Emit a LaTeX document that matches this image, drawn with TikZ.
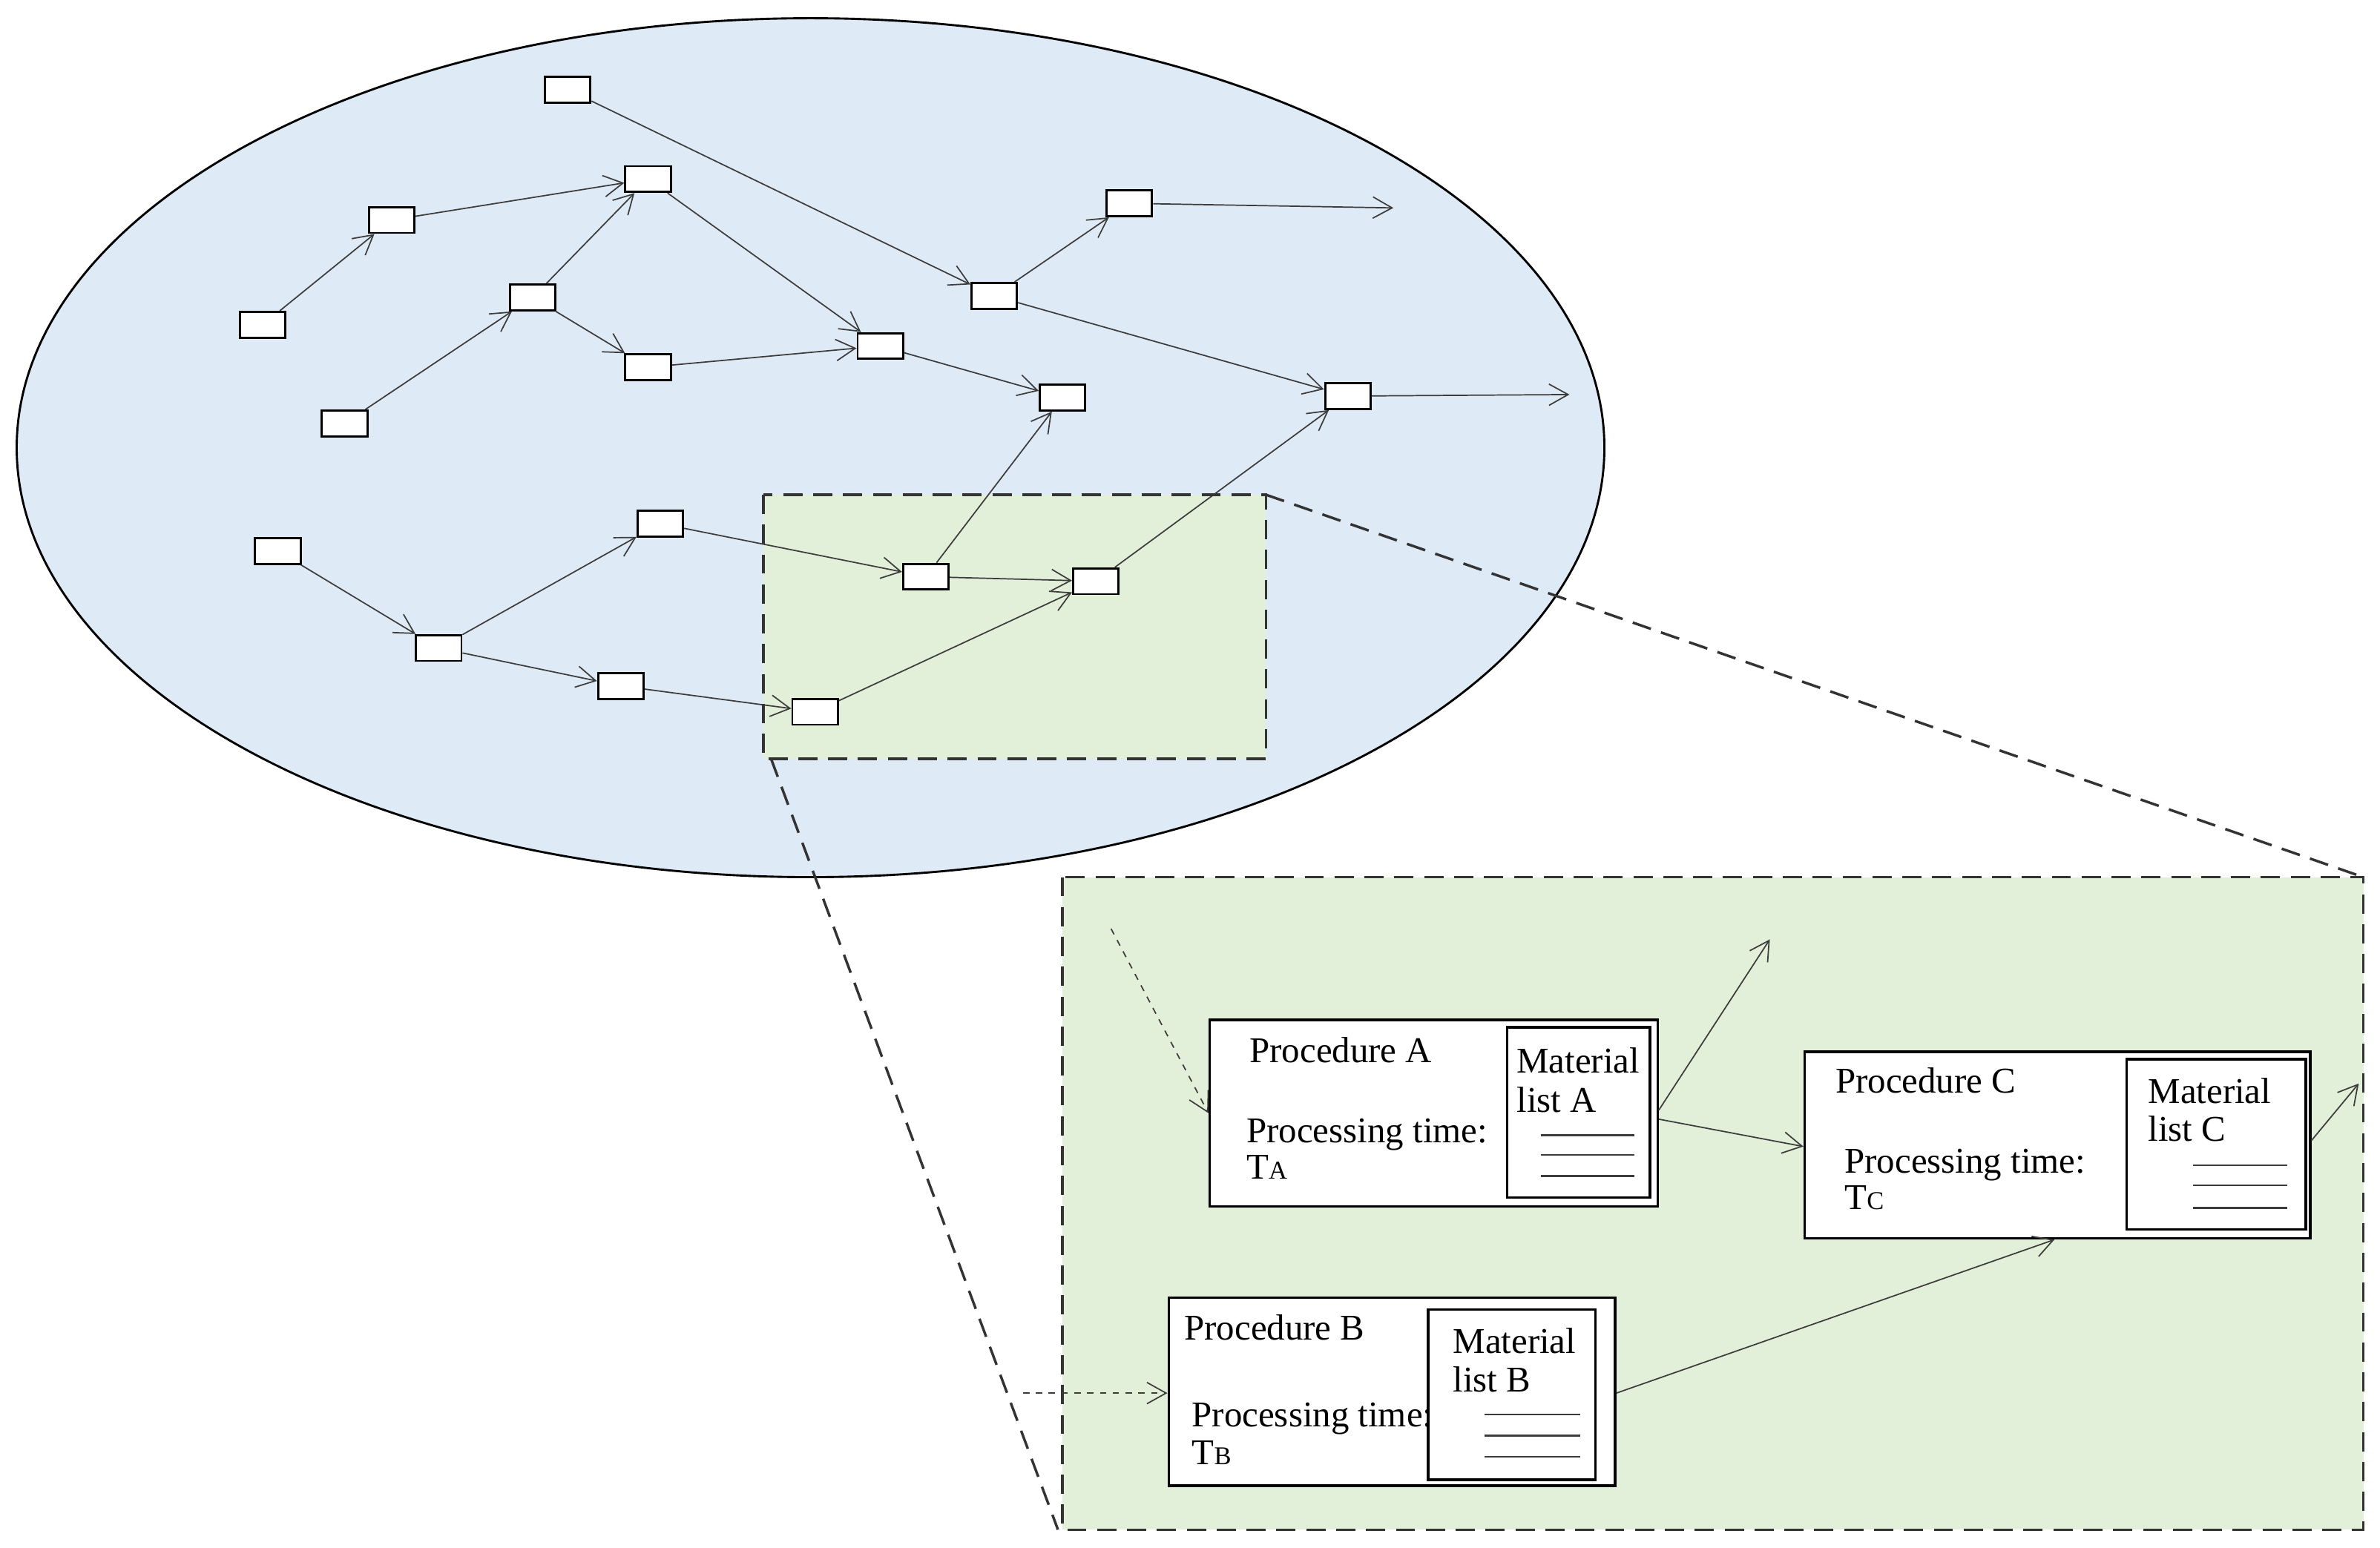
\documentclass[tikz,border=0pt]{standalone}
\usepackage{fontspec}
\setmainfont{Liberation Serif}
\usetikzlibrary{positioning, calc, arrows.meta}
\definecolor{ellblue}{RGB}{222,234,246}
\definecolor{zoomgreen}{RGB}{226,239,217}
\definecolor{linegray}{RGB}{60,60,60}
\tikzset{
    Arrow/.style = {draw=linegray, line width=0.6pt, -{Straight Barb[length=9pt, width=10pt]}},
    task/.style = {draw, fill=white, line width=1pt, minimum width=0.75cm, minimum height=0.425cm, inner sep=0pt},
    frame/.style = {draw=black!80, dashed, dash pattern=on 9pt off 5pt, line width=1.2pt},
    txt/.style = {anchor=base west, inner sep=0pt, font=\fontsize{17}{19}\selectfont},
    rule/.style = {draw=linegray, line width=0.8pt}
}
\newcommand{\Tsub}[1]{T{\fontsize{12}{14}\selectfont #1}}
\begin{document}
\begin{tikzpicture}[x=0.025cm, y=-0.025cm]
\useasboundingbox (0,0) rectangle (1568,1020);

% network
\draw[line width=1pt, fill=ellblue] (534,295) ellipse [x radius=523, y radius=283];
\fill[zoomgreen] (503,326) rectangle (834,500);

\node[task] (n1) at (374,59) {};
\node[task] (n2) at (258,145) {};
\node[task] (n3) at (427,118) {};
\node[task] (n4) at (173,214) {};
\node[task] (n5) at (351,196) {};
\node[task] (n6) at (427,242) {};
\node[task] (n7) at (227,279) {};
\node[task] (n8) at (580,228) {};
\node[task] (n9) at (655,195) {};
\node[task] (n10) at (744,134) {};
\node[task] (n11) at (700,262) {};
\node[task] (n12) at (888,261) {};
\node[task] (n13) at (183,363) {};
\node[task] (n14) at (289,427) {};
\node[task] (n15) at (435,345) {};
\node[task] (n16) at (409,452) {};
\node[task] (n17) at (610,380) {};
\node[task] (n18) at (722,383) {};
\node[task] (n19) at (537,469) {};
\coordinate (e1) at (918,137);
\coordinate (e2) at (1034,260);

\foreach \a/\b in {n4/n2, n2/n3, n7/n5, n5/n3, n5/n6, n3/n8, n6/n8, n8/n11,
    n1/n9, n9/n10, n10/e1, n9/n12, n12/e2, n13/n14, n14/n15, n14/n16,
    n15/n17, n16/n19, n17/n18, n17/n11, n19/n18, n18/n12}
    \draw[Arrow] (\a) -- (\b);

\draw[frame] (503,326) rectangle (834,500);

% zoomed part
\draw[frame, fill=zoomgreen] (700,578) rectangle (1557,1008);
\draw[frame] (834,326) -- (1557,578);
\draw[frame] (508,500) -- (697,1008);

\node[draw, fill=white, line width=1.2pt, minimum width=7.375cm, minimum height=3.075cm, inner sep=0pt] (pA) at (944.5,733.5) {};
\node[draw, line width=1.2pt, minimum width=2.35cm, minimum height=2.8cm, inner sep=0pt] (mA) at (1040,733) {};
\node[draw, fill=white, line width=1.2pt, minimum width=8.325cm, minimum height=3.075cm, inner sep=0pt] (pC) at (1355.5,754.5) {};
\node[draw, line width=1.2pt, minimum width=2.95cm, minimum height=2.8cm, inner sep=0pt] (mC) at (1460,754) {};
\node[draw, fill=white, line width=1.2pt, minimum width=7.35cm, minimum height=3.1cm, inner sep=0pt] (pB) at (917,917) {};
\node[draw, line width=1.2pt, minimum width=2.75cm, minimum height=2.8cm, inner sep=0pt] (mB) at (996,919) {};

\node[txt] (tA1) at (823,700) {Procedure A};
\node[txt] (tA2) at (821,753) {Processing time:};
\node[txt] (tA3) at (821,777) {\Tsub{A}};
\node[txt] (lA1) at (999,707) {Material};
\node[txt] (lA2) at (999,733) {list A};
\node[txt] (tC1) at (1209,720) {Procedure C};
\node[txt] (tC2) at (1215,773) {Processing time:};
\node[txt] (tC3) at (1215,797) {\Tsub{C}};
\node[txt] (lC1) at (1415,727) {Material};
\node[txt] (lC2) at (1415,752) {list C};
\node[txt] (tB1) at (780,883) {Procedure B};
\node[txt] (tB2) at (785,940) {Processing time:};
\node[txt] (tB3) at (785,965) {\Tsub{B}};
\node[txt] (lB1) at (957,892) {Material};
\node[txt] (lB2) at (957,917) {list B};

\foreach \y in {748,761,775} \draw[rule] (1015,\y) -- (1077,\y);
\foreach \y in {768,781,796} \draw[rule] (1445,\y) -- (1507,\y);
\foreach \y in {932,946,960} \draw[rule] (978,\y) -- (1041,\y);

\coordinate (inA) at (732,612);
\coordinate (outA) at (1166,619);
\coordinate (outC) at (1554,714);
\coordinate (inB) at (674,918);
\draw[Arrow, dashed] (inA) -- ($(pA.west)+(0,0)$);
\draw[Arrow] ($(pA.east)+(0,-2)$) -- (outA);
\draw[Arrow] ($(pA.east)+(0,4)$) -- ($(pC.west)+(0,1)$);
\draw[Arrow] ($(pC.east)+(0,-3)$) -- (outC);
\draw[Arrow] ($(pB.east)+(0,1)$) -- ($(pC.south)+(-2,0)$);
\draw[Arrow, dashed] (inB) -- ($(pB.west)+(0,1)$);
\end{tikzpicture}
\end{document}
